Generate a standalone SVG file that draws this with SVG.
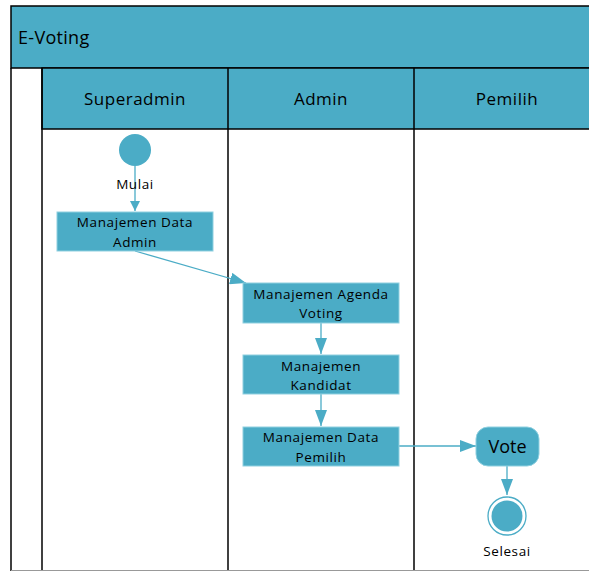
<svg xmlns="http://www.w3.org/2000/svg" width="589" height="571" viewBox="0 0 589 571">
<defs>
<style>
text{font-family:"Open Sans","Liberation Sans",sans-serif;fill:#000}
.frame{fill:none;stroke:#000;stroke-width:1.5}
.band{fill:#4BACC6;stroke:#000;stroke-width:1.5}
.act{fill:#4BACC6;stroke:#8fd0e0;stroke-width:1}
.lbl{font-size:13.5px;letter-spacing:0.6px;text-anchor:middle}
.hdr{font-size:17px;letter-spacing:0.5px;text-anchor:middle}
.conn{fill:none;stroke:#4BACC6;stroke-width:1.3}
</style>
<marker id="arr" viewBox="0 0 10 10" refX="10" refY="5" markerWidth="10" markerHeight="10" markerUnits="userSpaceOnUse" orient="auto">
<path d="M0,0 L10,5 L0,10 Z" fill="#4BACC6"/>
</marker>
<marker id="arrL" viewBox="0 0 16 12" refX="16" refY="6" markerWidth="16" markerHeight="12" markerUnits="userSpaceOnUse" orient="auto">
<path d="M0,0 L16,6 L0,12 Z" fill="#4BACC6"/>
</marker>
</defs>
<rect width="589" height="571" fill="#fff"/>
<g id="pool">
<rect class="band" x="11" y="6" width="590" height="62"/>
<text x="18" y="44" font-size="18" letter-spacing="0.3">E-Voting</text>
<rect class="band" x="42" y="68" width="560" height="61"/>
<line class="frame" x1="11" y1="68" x2="11" y2="571"/>
<line class="frame" x1="42" y1="68" x2="42" y2="571"/>
<line class="frame" x1="228" y1="68" x2="228" y2="571"/>
<line class="frame" x1="414" y1="68" x2="414" y2="571"/>
<line x1="11" y1="570.5" x2="589" y2="570.5" stroke="#999" stroke-width="1"/>
<text class="hdr" x="135" y="105">Superadmin</text>
<text class="hdr" x="321" y="105">Admin</text>
<text class="hdr" x="507" y="105">Pemilih</text>
</g>
<g id="connectors">
<line class="conn" x1="135" y1="166" x2="135" y2="211" marker-end="url(#arr)"/>
<line class="conn" x1="135" y1="251" x2="246" y2="283" marker-end="url(#arrL)"/>
<line class="conn" x1="321" y1="323" x2="321" y2="354" marker-end="url(#arrL)"/>
<line class="conn" x1="321" y1="394" x2="321" y2="426" marker-end="url(#arrL)"/>
<line class="conn" x1="399" y1="446" x2="476" y2="446" marker-end="url(#arrL)"/>
<line class="conn" x1="507" y1="466" x2="507" y2="495" marker-end="url(#arrL)"/>
</g>
<g id="start">
<circle cx="135" cy="150" r="16" fill="#4BACC6"/>
<text class="lbl" x="135" y="189">Mulai</text>
</g>
<g id="n1">
<rect class="act" x="57" y="212" width="156" height="39"/>
<text class="lbl" x="135" y="227">Manajemen Data</text>
<text class="lbl" x="135" y="247">Admin</text>
</g>
<g id="n2">
<rect class="act" x="243" y="283" width="156" height="40"/>
<text class="lbl" x="321" y="299">Manajemen Agenda</text>
<text class="lbl" x="321" y="318">Voting</text>
</g>
<g id="n3">
<rect class="act" x="243" y="355" width="156" height="39"/>
<text class="lbl" x="321" y="371">Manajemen</text>
<text class="lbl" x="321" y="390">Kandidat</text>
</g>
<g id="n4">
<rect class="act" x="243" y="427" width="156" height="39"/>
<text class="lbl" x="321" y="442">Manajemen Data</text>
<text class="lbl" x="321" y="462">Pemilih</text>
</g>
<g id="vote">
<rect class="act" x="476" y="427" width="63" height="39" rx="12"/>
<text x="507.5" y="453" font-size="18" text-anchor="middle">Vote</text>
</g>
<g id="end">
<circle cx="507" cy="516" r="19" fill="#fff" stroke="#4BACC6" stroke-width="1.3"/>
<circle cx="507" cy="516" r="15.5" fill="#4BACC6"/>
<text class="lbl" x="507" y="556">Selesai</text>
</g>
</svg>
